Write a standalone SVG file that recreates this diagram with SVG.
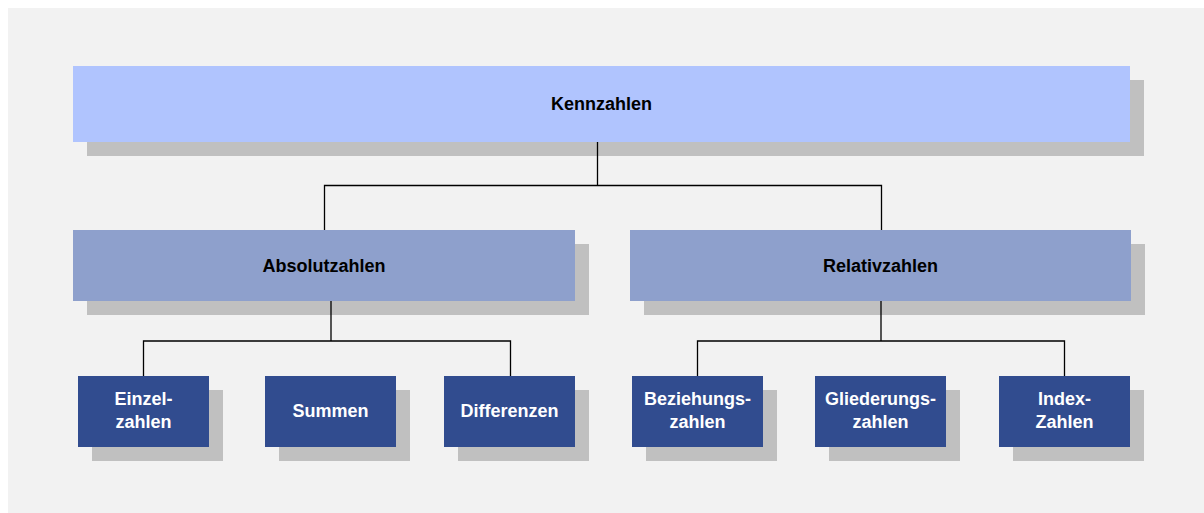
<svg xmlns="http://www.w3.org/2000/svg" width="1204" height="513" viewBox="0 0 1204 513">
<style>
.sh{fill:#C0C0C0}
.top{fill:#B0C4FE}
.mid{fill:#8EA0CC}
.bot{fill:#314C8F}
text{font-family:"Liberation Sans",Arial,sans-serif;font-weight:bold;font-size:18px;text-anchor:middle}
.dk{fill:#000}
.lt{fill:#FFFFFF}
.c{fill:none;stroke:#000;stroke-width:1.3}
</style>
<rect x="0" y="0" width="1204" height="513" fill="#FFFFFF"/>
<rect x="8" y="8" width="1196" height="505" fill="#F2F2F2"/>
<g id="kennzahlen">
<rect class="sh" x="87" y="80" width="1057" height="76"/>
<rect class="top" x="73" y="66" width="1057" height="76"/>
<text class="dk" x="601.5" y="109.5">Kennzahlen</text>
</g>
<g id="absolutzahlen">
<rect class="sh" x="87" y="244" width="502" height="71"/>
<rect class="mid" x="73" y="230" width="502" height="71"/>
<text class="dk" x="324" y="272">Absolutzahlen</text>
</g>
<g id="relativzahlen">
<rect class="sh" x="644" y="244" width="501" height="71"/>
<rect class="mid" x="630" y="230" width="501" height="71"/>
<text class="dk" x="880.5" y="272">Relativzahlen</text>
</g>
<g id="einzelzahlen">
<rect class="sh" x="92" y="390" width="131" height="71"/>
<rect class="bot" x="78" y="376" width="131" height="71"/>
<text class="lt" x="143.5" y="405">Einzel-</text>
<text class="lt" x="143.5" y="428">zahlen</text>
</g>
<g id="summen">
<rect class="sh" x="279" y="390" width="131" height="71"/>
<rect class="bot" x="265" y="376" width="131" height="71"/>
<text class="lt" x="330.5" y="417">Summen</text>
</g>
<g id="differenzen">
<rect class="sh" x="458" y="390" width="131" height="71"/>
<rect class="bot" x="444" y="376" width="131" height="71"/>
<text class="lt" x="509.5" y="417">Differenzen</text>
</g>
<g id="beziehungszahlen">
<rect class="sh" x="646" y="390" width="131" height="71"/>
<rect class="bot" x="632" y="376" width="131" height="71"/>
<text class="lt" x="697.5" y="405">Beziehungs-</text>
<text class="lt" x="697.5" y="428">zahlen</text>
</g>
<g id="gliederungszahlen">
<rect class="sh" x="829" y="390" width="131" height="71"/>
<rect class="bot" x="815" y="376" width="131" height="71"/>
<text class="lt" x="880.5" y="405">Gliederungs-</text>
<text class="lt" x="880.5" y="428">zahlen</text>
</g>
<g id="indexzahlen">
<rect class="sh" x="1013" y="390" width="131" height="71"/>
<rect class="bot" x="999" y="376" width="131" height="71"/>
<text class="lt" x="1064.5" y="405">Index-</text>
<text class="lt" x="1064.5" y="428">Zahlen</text>
</g>
<g id="connectors">
<path class="c" d="M597.5 142V185.5M324.5 230V185.5H881.5V230"/>
<path class="c" d="M331 301V341M143.5 376V341H510.5V376"/>
<path class="c" d="M881 301V341M697.5 376V341H1064.5V376"/>
</g>
</svg>
